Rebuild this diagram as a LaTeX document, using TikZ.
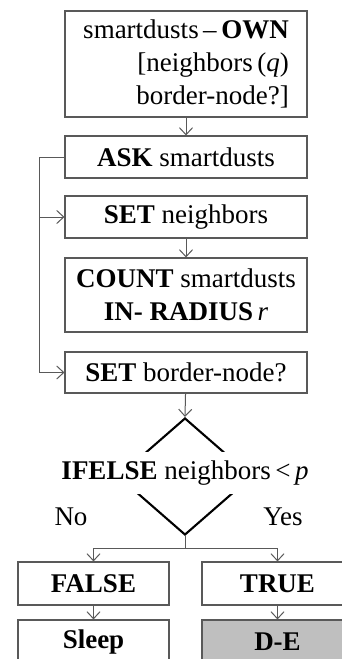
\documentclass[tikz,border=0pt]{standalone}
\usepackage{fontspec}
\setmainfont{Liberation Serif}
\usepackage{xcolor}
\usetikzlibrary{arrows.meta, shapes.geometric}
\definecolor{trait}{HTML}{595959}
\definecolor{grisfond}{HTML}{BFBFBF}
\tikzset{
  bloc/.style={rectangle, draw=trait, line width=1.1pt, fill=white, text=black,
    font=\fontsize{27}{33}\selectfont, minimum width=242pt, minimum height=42pt,
    align=center, inner sep=0pt},
  blocbas/.style={bloc, minimum width=151pt, minimum height=43pt},
  fleche/.style={-{Straight Barb[length=7pt, width=13pt, line width=1pt]}, draw=trait, line width=1pt},
  lien/.style={draw=trait, line width=1pt},
  losange/.style={diamond, draw=black, line width=2.1pt, minimum width=134pt,
    minimum height=117pt, inner sep=0pt},
  etiquette/.style={font=\fontsize{27}{33}\selectfont, inner sep=0pt},
}

\begin{document}
\begin{tikzpicture}[x=1pt, y=-1pt]
  \useasboundingbox (0,0) rectangle (342,659);
  \clip (0,0) rectangle (342,659);
  % Blocs du haut
  \node[bloc, minimum height=106pt, align=right] (own) at (186,64)
    {smartdusts\,–\,\textbf{OWN}\\ {[}neighbors\,(\textit{q})\hspace*{27pt}\\ border-node?]};
  \node[bloc] (ask) at (186,157) {\textbf{ASK} smartdusts};
  \node[bloc] (setn) at (186,217) {\textbf{SET} neighbors};
  \node[bloc, minimum height=74pt] (count) at (186,295)
    {\textbf{COUNT} smartdusts\\ \textbf{IN- RADIUS}\,\textit{r}};
  \node[bloc, minimum height=41pt] (setb) at (186,372.5) {\textbf{SET} border-node?};
  % Test
  \node[losange] (test) at (185,476.5) {};
  \node[etiquette, fill=white, minimum height=42pt] (cond) at (185,473)
    {\textbf{IFELSE} neighbors\,<\,\textit{p}};
  \node[etiquette] (non) at (71,517) {No};
  \node[etiquette] (oui) at (283,517) {Yes};
  % Branches
  \node[blocbas] (faux) at (93.5,583.5) {\textbf{FALSE}};
  \node[blocbas] (vrai) at (277.5,583.5) {\textbf{TRUE}};
  \node[blocbas] (sleep) at (93.5,641.5) {\textbf{Sleep}};
  \node[blocbas, fill=grisfond] (de) at (277.5,641.5) {\textbf{D-E}};

  \coordinate (gauche) at (39,157);
  \coordinate (partage) at (185,548);

  \draw[fleche] (own) -- (ask);
  \draw[lien] (ask.west) -- (gauche);
  \draw[fleche] (gauche) |- (setn.west);
  \draw[fleche] (gauche) |- (setb.west);
  \draw[fleche] (setn) -- (count);
  \draw[fleche] (setb) -- (test.north);
  \draw[lien] (test.south) -- (partage);
  \draw[fleche] (partage) -| (faux.north);
  \draw[fleche] (partage) -| (vrai.north);
  \draw[fleche] (faux) -- (sleep);
  \draw[fleche] (vrai) -- (de);
\end{tikzpicture}
\end{document}
